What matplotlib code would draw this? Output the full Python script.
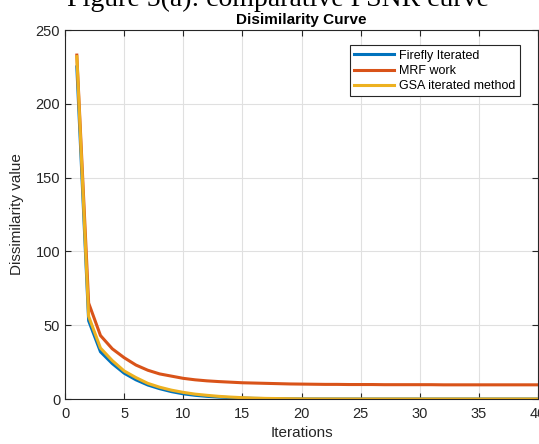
import matplotlib
matplotlib.use("Agg")
import matplotlib.pyplot as plt

plt.rcParams['font.family'] = ['Liberation Sans', 'DejaVu Sans']

iterations = list(range(1, 41))
firefly = [225, 53, 32, 24, 17.5, 13, 9.5, 7, 5, 3.5, 2.5, 1.8, 1.3, 0.9, 0.6, 0.4, 0.3, 0.2, 0.1, 0.05,
           0.03, 0.02, 0.01, 0.01, 0, 0, 0, 0, 0, 0, 0, 0, 0, 0, 0, 0, 0, 0, 0, 0]
mrf = [233, 65, 43, 34, 28, 23, 19.5, 17, 15.5, 14, 13, 12.3, 11.8, 11.4, 11, 10.8, 10.6, 10.4, 10.2, 10.1,
       10.0, 9.9, 9.9, 9.8, 9.8, 9.8, 9.7, 9.7, 9.7, 9.7, 9.7, 9.6, 9.6, 9.6, 9.6, 9.6, 9.6, 9.6, 9.6, 9.6]
gsa = [232, 56, 34.5, 26, 19, 14.5, 10.6, 8, 6, 4.5, 3.3, 2.5, 1.8, 1.3, 0.9, 0.6, 0.4, 0.3, 0.2, 0.1,
       0.05, 0.03, 0.02, 0.01, 0, 0, 0, 0, 0, 0, 0, 0, 0, 0, 0, 0, 0, 0, 0, 0]
series_names = ["Firefly Iterated", "MRF work", "GSA iterated method"]
xticks = [0, 5, 10, 15, 20, 25, 30, 35, 40]
yticks = [0, 50, 100, 150, 200, 250]

fig = plt.figure(figsize=(5.39, 4.44), dpi=100)
ax = fig.add_axes([65/539, 1-399/444, 473/539, 369/444])

colors = ['#0072BD', '#D95319', '#EDB120']
for vals, name, c in zip([firefly, mrf, gsa], series_names, colors):
    ax.plot(iterations, vals, color=c, lw=2.2, label=name)

ax.set_xlim(0, 40)
ax.set_ylim(0, 250)
ax.set_xticks(xticks)
ax.set_yticks(yticks)
ax.tick_params(direction='in', length=4, width=0.8, labelsize=10.5, top=True, right=True,
               colors='#262626')
ax.tick_params(axis='x', pad=6)
ax.grid(True, color='#e0e0e0', lw=0.8)
for s in ax.spines.values():
    s.set_color('#262626')
    s.set_linewidth(0.8)
ax.set_xlabel("Iterations", fontsize=11, color='#262626', labelpad=3)
ax.set_ylabel("Dissimilarity value", fontsize=11, color='#262626', labelpad=8)
ax.set_title("Disimilarity Curve", fontsize=11, fontweight='bold', pad=4)

leg = ax.legend(loc='upper right', bbox_to_anchor=(0.975, 0.975), fontsize=9, fancybox=False,
                framealpha=1, edgecolor='#262626', handlelength=3.2, borderpad=0.35,
                labelspacing=0.25, handletextpad=0.4)
leg.get_frame().set_linewidth(0.8)

fig.text(0.516, 1 - 6/444, "Figure 5(a): comparative PSNR curve", family='Liberation Serif',
         fontsize=20, ha='center', va='baseline')

fig.savefig("out.png", dpi=100)
